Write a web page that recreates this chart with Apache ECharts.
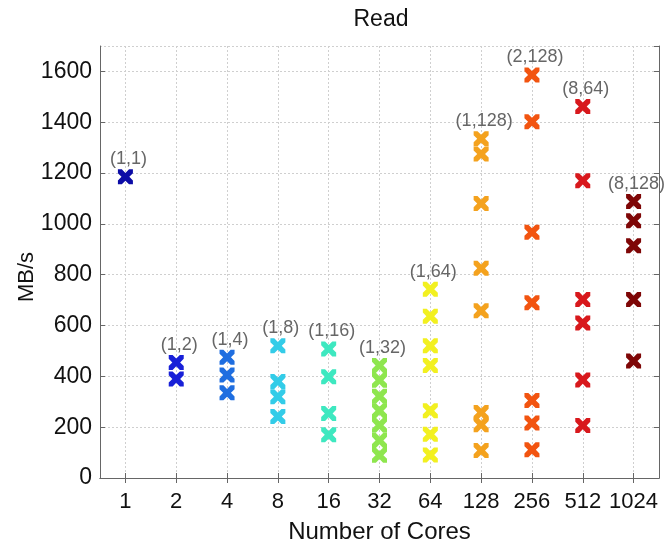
<!DOCTYPE html>
<html>
<head>
<meta charset="utf-8">
<script src="https://cdn.jsdelivr.net/npm/echarts@6/dist/echarts.min.js"></script>
<style>
html,body{margin:0;padding:0;background:#fff;}
#chart{width:671px;height:544px;}
</style>
</head>
<body>
<div id="chart"></div>
<script>
// Categories (number of cores)
const cores = ['1', '2', '4', '8', '16', '32', '64', '128', '256', '512', '1024'];
// Configuration label shown above each column
const configLabels = ['(1,1)', '(1,2)', '(1,4)', '(1,8)', '(1,16)', '(1,32)', '(1,64)', '(1,128)', '(2,128)', '(8,64)', '(8,128)'];
// Read throughput (MB/s) per column
const read1 = [1185];
const read2 = [455, 390];
const read4 = [475, 405, 335];
const read8 = [520, 380, 320, 242];
const read16 = [508, 398, 254, 170];
const read32 = [443, 385, 322, 265, 208, 148, 90];
const read64 = [743, 637, 520, 443, 265, 172, 91];
const read128 = [1335, 1275, 1080, 825, 658, 258, 210, 108];
const read256 = [1586, 1402, 967, 690, 305, 216, 111];
const read512 = [1462, 1170, 702, 610, 386, 207];
const read1024 = [1088, 1012, 914, 702, 460];
// Y axis ticks
const yMin = 0, yMax = 1700, yStep = 200;

const columns = [read1, read2, read4, read8, read16, read32, read64, read128, read256, read512, read1024];
const colors = ['#0c0ca6', '#1820d8', '#1f6ee0', '#33cce8', '#3ee8c0', '#8ee64e', '#f2f020', '#f4a21e', '#f25410', '#d8181c', '#7e0606'];

const xPath = 'path://M0,0 L2.6,0 L5,2.4 L7.4,0 L10,0 L10,2.6 L7.6,5 L10,7.4 L10,10 L7.4,10 L5,7.6 L2.6,10 L0,10 L0,7.4 L2.4,5 L0,2.6 Z';
const FONT = 'Liberation Sans';

const series = columns.map((vals, i) => {
  const top = Math.max.apply(null, vals);
  return {
    type: 'scatter',
    symbol: xPath,
    symbolSize: 15,
    itemStyle: { color: colors[i], opacity: 1 },
    data: vals.map(v => {
      const d = { value: [cores[i], v] };
      if (v === top) {
        d.label = {
          show: true, position: 'top', distance: 1, offset: [3, 0],
          formatter: configLabels[i], color: '#666', fontSize: 18, fontFamily: FONT
        };
      }
      return d;
    })
  };
});

const chart = echarts.init(document.getElementById('chart'));
chart.setOption({
  animation: false,
  backgroundColor: '#fff',
  title: {
    text: 'Read', left: 376, top: 3, textAlign: 'center',
    textStyle: { fontFamily: FONT, fontSize: 23, fontWeight: 'normal', color: '#111' }
  },
  graphic: [{
    type: 'text', x: 27, y: 277, rotation: Math.PI / 2,
    style: { text: 'MB/s', fontFamily: FONT, fontSize: 22, fill: '#111', align: 'center', verticalAlign: 'middle' }
  }],
  grid: { left: 100, right: 12, top: 46, bottom: 66, show: false, outerBoundsMode: 'none', containLabel: false },
  xAxis: [{
    type: 'category', data: cores, boundaryGap: true,
    name: 'Number of Cores', nameLocation: 'middle', nameGap: 42,
    nameTextStyle: { fontFamily: FONT, fontSize: 24, color: '#111' },
    axisLine: { show: true, lineStyle: { color: '#666', width: 1 } },
    axisTick: { show: true, inside: true, alignWithLabel: true, length: 5, lineStyle: { color: '#666' } },
    axisLabel: { fontFamily: FONT, fontSize: 22, color: '#111', margin: 13, interval: 0 },
    splitLine: { show: true, alignWithLabel: true, lineStyle: { color: '#cfcfcf', type: [2, 2] } }
  }, {
    type: 'category', data: cores, boundaryGap: true, position: 'top',
    axisLine: { show: true, lineStyle: { color: '#666', width: 1 } },
    axisTick: { show: true, inside: true, alignWithLabel: true, length: 5, lineStyle: { color: '#666' } },
    axisLabel: { show: false }, splitLine: { show: false }
  }],
  yAxis: [{
    type: 'value', min: yMin, max: yMax, interval: yStep,
    axisLine: { show: true, lineStyle: { color: '#666', width: 1 } },
    axisTick: { show: true, inside: true, length: 5, lineStyle: { color: '#666' } },
    axisLabel: { fontFamily: FONT, fontSize: 23, color: '#111', margin: 8, showMaxLabel: false,
                 formatter: v => String(v) },
    splitLine: { show: true, lineStyle: { color: '#cfcfcf', type: [2, 2] } }
  }, {
    type: 'value', min: yMin, max: yMax, interval: yStep, position: 'right',
    axisLine: { show: true, lineStyle: { color: '#666', width: 1 } },
    axisTick: { show: true, inside: true, length: 5, lineStyle: { color: '#666' } },
    axisLabel: { show: false }, splitLine: { show: false }
  }],
  series: series
});
</script>
</body>
</html>
